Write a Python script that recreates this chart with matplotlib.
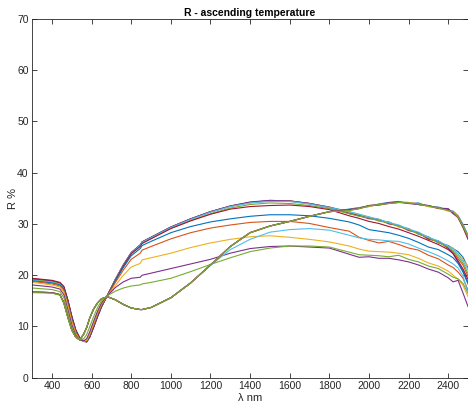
import matplotlib
matplotlib.use("Agg")
import numpy as np
from matplotlib import pyplot as plt

plt.rcParams["font.family"] = ["Liberation Sans", "DejaVu Sans"]

# wavelength samples (nm)
wl = [300, 400, 440, 460, 480, 500, 520, 540, 560, 575, 590, 610, 630, 650, 680,
      720, 760, 800, 845, 855, 900, 1000, 1100, 1200, 1300, 1400, 1500, 1600, 1700, 1800,
      1900, 1950, 2000, 2050, 2100, 2150, 2200, 2250, 2300, 2350, 2400, 2425, 2450, 2475, 2500]

# reflectance curves (%), in plot order (lowest temperature first)
r01 = [19.1, 18.8, 18.4, 17.6, 15.0, 11.8, 9.2, 7.7, 7.1, 7.0, 7.9, 9.9, 12.0, 13.9, 16.1,
       19.2, 22.0, 24.4, 25.9, 26.5, 27.4, 29.4, 31.0, 32.4, 33.5, 34.2, 34.6, 34.5, 34.0, 33.3,
       32.4, 31.6, 31.3, 30.6, 30.4, 29.5, 29.1, 28.0, 27.5, 26.3, 25.8, 25.2, 24.6, 23.5, 21.5]
r02 = [19.2, 18.8, 18.4, 17.6, 15.0, 11.8, 9.2, 7.7, 7.1, 7.0, 7.9, 9.9, 12.0, 13.9, 16.1,
       19.2, 22.0, 24.4, 25.9, 26.5, 27.4, 29.4, 31.0, 32.4, 33.5, 34.2, 34.5, 34.5, 34.0, 33.3,
       32.0, 31.7, 31.0, 30.9, 30.0, 29.7, 28.7, 28.3, 27.0, 26.6, 25.2, 24.6, 23.2, 22.0, 19.8]
r03 = [19.0, 18.7, 18.3, 17.5, 14.9, 11.7, 9.1, 7.7, 7.1, 7.0, 8.0, 10.0, 12.1, 13.9, 16.1,
       19.1, 21.9, 24.3, 25.8, 26.4, 27.3, 29.3, 30.9, 32.3, 33.4, 34.1, 34.5, 34.4, 33.9, 33.2,
       32.3, 31.9, 31.3, 30.7, 30.3, 29.4, 29.0, 28.1, 27.4, 26.4, 25.6, 25.3, 24.2, 23.0, 21.8]
r04 = [19.3, 18.9, 18.5, 17.7, 15.1, 11.9, 9.3, 7.8, 7.1, 7.0, 7.9, 9.9, 12.0, 13.9, 16.1,
       19.2, 22.0, 24.4, 25.9, 26.5, 27.4, 29.4, 31.0, 32.4, 33.5, 34.3, 34.6, 34.5, 34.0, 33.2,
       32.1, 31.6, 31.1, 30.9, 30.1, 29.7, 28.8, 28.3, 27.1, 26.7, 25.3, 24.2, 22.5, 20.8, 18.6]
r05 = [19.1, 18.7, 18.3, 17.5, 14.9, 11.7, 9.1, 7.7, 7.1, 7.0, 8.0, 10.0, 12.1, 13.9, 16.1,
       19.1, 21.8, 24.2, 25.7, 26.3, 27.2, 29.2, 30.7, 32.0, 33.1, 33.8, 34.1, 34.0, 33.6, 33.0,
       32.0, 31.5, 31.2, 30.6, 30.2, 29.6, 28.9, 28.1, 27.3, 26.4, 25.5, 24.8, 23.6, 22.4, 20.3]
r06 = [19.0, 18.6, 18.2, 17.4, 14.8, 11.6, 9.1, 7.6, 7.1, 7.0, 8.0, 10.0, 12.1, 14.0, 16.1,
       19.1, 21.9, 24.3, 25.8, 26.4, 27.3, 29.3, 30.9, 32.3, 33.4, 34.1, 34.4, 34.4, 33.9, 33.2,
       32.4, 31.9, 31.4, 30.9, 30.3, 29.8, 29.0, 28.4, 27.4, 26.7, 25.7, 25.1, 24.0, 22.8, 21.0]
r07 = [19.4, 19.0, 18.6, 17.8, 15.2, 12.0, 9.3, 7.8, 7.2, 7.0, 7.9, 9.8, 11.9, 13.8, 16.1,
       19.0, 21.8, 24.2, 25.6, 26.2, 27.1, 29.1, 30.6, 31.9, 32.9, 33.4, 33.6, 33.7, 33.4, 32.8,
       31.6, 31.1, 30.5, 30.1, 29.5, 29.0, 28.3, 27.6, 26.8, 26.0, 25.0, 24.2, 22.8, 21.2, 19.2]
r08 = [18.9, 18.5, 18.1, 17.3, 14.7, 11.5, 9.0, 7.6, 7.1, 7.1, 8.1, 10.1, 12.2, 14.0, 16.0,
       18.9, 21.5, 23.8, 25.2, 25.8, 26.6, 28.3, 29.5, 30.4, 31.0, 31.5, 31.8, 31.8, 31.6, 31.1,
       30.4, 29.8, 28.9, 28.6, 28.3, 27.8, 27.2, 26.4, 25.5, 25.0, 24.0, 23.4, 22.3, 20.6, 18.3]
r09 = [18.8, 18.3, 17.9, 17.0, 14.4, 11.2, 8.8, 7.5, 7.1, 7.2, 8.3, 10.3, 12.4, 14.2, 16.0,
       18.6, 21.0, 23.1, 24.3, 24.9, 25.6, 27.1, 28.3, 29.2, 29.8, 30.3, 30.5, 30.5, 30.1, 29.3,
       28.6, 27.4, 26.8, 26.3, 26.6, 26.0, 25.3, 24.9, 23.9, 23.2, 22.0, 21.5, 20.6, 19.4, 17.1]
r10 = [18.6, 18.1, 17.7, 16.7, 14.0, 10.9, 8.6, 7.4, 7.1, 7.3, 8.5, 10.6, 12.7, 14.4, 16.0,
       18.0, 20.0, 21.6, 22.3, 23.0, 23.4, 24.3, 25.4, 26.3, 27.0, 27.5, 27.7, 27.4, 27.0, 26.5,
       25.7, 25.1, 24.7, 24.6, 24.5, 24.3, 24.0, 23.3, 22.4, 21.8, 20.8, 20.0, 19.2, 18.0, 15.8]
r11 = [18.1, 17.7, 17.3, 16.2, 13.3, 10.3, 8.3, 7.3, 7.2, 7.6, 8.9, 11.0, 13.0, 14.6, 16.0,
       17.6, 18.7, 19.4, 19.6, 20.0, 20.4, 21.3, 22.2, 23.1, 24.3, 25.2, 25.6, 25.7, 25.5, 25.3,
       24.1, 23.5, 23.6, 23.3, 23.3, 23.0, 22.6, 22.0, 21.2, 20.6, 19.5, 18.7, 19.0, 16.5, 13.9]
r12 = [17.5, 17.2, 16.8, 15.6, 12.6, 9.8, 8.0, 7.3, 7.6, 8.4, 9.9, 11.9, 13.7, 15.0, 16.0,
       16.9, 17.5, 17.9, 18.1, 18.3, 18.6, 19.4, 20.7, 22.1, 23.4, 24.6, 25.3, 25.7, 25.7, 25.5,
       24.5, 24.0, 23.9, 23.8, 23.6, 23.9, 23.1, 22.6, 21.8, 21.3, 20.2, 19.6, 19.3, 18.4, 16.5]
r13 = [16.8, 16.6, 16.2, 14.6, 11.8, 9.3, 7.9, 7.4, 8.5, 9.8, 11.6, 13.4, 14.6, 15.4, 15.8,
       15.2, 14.3, 13.6, 13.3, 13.3, 13.7, 15.6, 18.5, 21.9, 25.0, 27.0, 28.4, 28.9, 29.1, 28.8,
       27.8, 27.3, 27.0, 26.9, 26.7, 26.6, 26.1, 25.3, 24.6, 23.8, 22.8, 22.2, 21.4, 19.8, 16.5]
r14 = [16.7, 16.6, 16.2, 14.6, 11.8, 9.3, 7.9, 7.4, 8.5, 9.8, 11.6, 13.4, 14.6, 15.4, 15.8,
       15.2, 14.3, 13.6, 13.3, 13.3, 13.7, 15.6, 18.5, 22.0, 25.6, 28.3, 29.6, 30.5, 31.5, 32.4,
       32.7, 33.0, 33.6, 33.7, 34.0, 34.2, 34.2, 33.8, 33.6, 33.1, 32.9, 32.1, 31.2, 29.3, 27.0]
r15 = [16.7, 16.6, 16.2, 14.6, 11.8, 9.3, 7.9, 7.4, 8.5, 9.8, 11.6, 13.4, 14.6, 15.4, 15.8,
       15.2, 14.3, 13.6, 13.3, 13.3, 13.7, 15.6, 18.5, 22.0, 25.6, 28.3, 29.6, 30.5, 31.5, 32.4,
       32.9, 33.2, 33.4, 33.9, 34.2, 34.4, 34.0, 34.1, 33.4, 33.3, 32.6, 32.5, 31.6, 29.9, 27.8]
r16 = [16.7, 16.6, 16.2, 14.6, 11.8, 9.3, 7.9, 7.4, 8.5, 9.8, 11.6, 13.4, 14.6, 15.4, 15.8,
       15.2, 14.3, 13.6, 13.3, 13.3, 13.7, 15.6, 18.5, 22.0, 25.6, 28.3, 29.6, 30.5, 31.5, 32.4,
       32.8, 33.0, 33.5, 33.7, 34.1, 34.2, 34.1, 33.8, 33.5, 33.0, 32.8, 32.0, 31.3, 29.4, 27.3]
r17 = [16.7, 16.6, 16.2, 14.6, 11.8, 9.3, 7.9, 7.4, 8.5, 9.8, 11.6, 13.4, 14.6, 15.4, 15.8,
       15.2, 14.3, 13.6, 13.3, 13.3, 13.7, 15.6, 18.5, 22.0, 25.6, 28.3, 29.6, 30.5, 31.5, 32.4,
       32.7, 33.2, 33.4, 33.9, 34.0, 34.3, 34.2, 33.9, 33.4, 33.2, 32.5, 32.4, 31.5, 29.7, 27.6]
r18 = [16.7, 16.6, 16.2, 14.6, 11.8, 9.3, 7.9, 7.4, 8.5, 9.8, 11.6, 13.4, 14.6, 15.4, 15.8,
       15.2, 14.3, 13.6, 13.3, 13.3, 13.7, 15.6, 18.5, 22.0, 25.6, 28.3, 29.6, 30.5, 31.5, 32.4,
       32.8, 33.1, 33.6, 33.8, 34.1, 34.3, 34.0, 33.8, 33.6, 33.1, 33.0, 32.1, 31.4, 29.5, 27.2]
r19 = [16.6, 16.5, 16.1, 14.5, 11.7, 9.2, 7.9, 7.4, 8.5, 9.8, 11.6, 13.4, 14.6, 15.4, 15.8,
       15.2, 14.3, 13.6, 13.3, 13.3, 13.7, 15.6, 18.5, 22.0, 25.6, 28.3, 29.6, 30.5, 31.5, 32.4,
       32.6, 33.0, 33.5, 33.8, 34.0, 34.2, 34.1, 33.9, 33.5, 33.1, 32.6, 32.4, 31.3, 29.6, 27.5]

curves = [r01, r02, r03, r04, r05, r06, r07, r08, r09, r10,
          r11, r12, r13, r14, r15, r16, r17, r18, r19]

# MATLAB default line colour order
matlab_colors = ["#0072BD", "#D95319", "#EDB120", "#7E2F8E",
                 "#77AC30", "#4DBEEE", "#A2142F"]

fig = plt.figure(figsize=(4.68, 4.03), dpi=100)
ax = fig.add_axes([0.0688, 0.0628, 0.9312, 0.890])

for i, r in enumerate(curves):
    ax.plot(wl, r, color=matlab_colors[i % 7], linewidth=0.8)

ax.set_xlim(300, 2500)
ax.set_ylim(0, 70)
ax.set_xticks(np.arange(400, 2401, 200))
ax.set_yticks(np.arange(0, 71, 10))

axis_color = "#262626"
for side in ["left", "right", "top", "bottom"]:
    ax.spines[side].set_color(axis_color)
    ax.spines[side].set_linewidth(0.6)
ax.tick_params(direction="in", length=3.5, width=0.6, colors=axis_color,
               labelsize=7.5, top=True, right=True, pad=2.5)

ax.set_title("R - ascending temperature", fontsize=7.5, fontweight="bold",
             color="black", pad=2.5)
ax.set_xlabel("λ nm", fontsize=8, color=axis_color, labelpad=1)
ax.set_ylabel("R %", fontsize=8, color=axis_color, labelpad=-1)

fig.savefig("out.png", dpi=100)
